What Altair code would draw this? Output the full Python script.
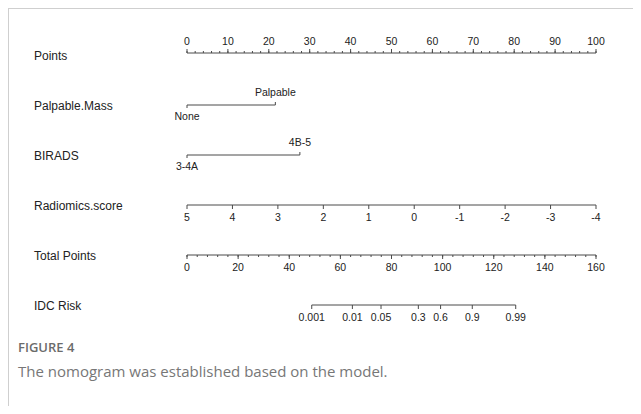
import altair as alt
import pandas as pd

# ---------------- data ----------------
row_names = ["Points", "Palpable.Mass", "BIRADS", "Radiomics.score", "Total Points", "IDC Risk"]

points_major = [0, 10, 20, 30, 40, 50, 60, 70, 80, 90, 100]
points_minor = list(range(0, 101, 2))

palpable_levels = ["None", "Palpable"]
palpable_points = [0, 21.6]

birads_levels = ["3-4A", "4B-5"]
birads_points = [0, 27.6]

radiomics_ticks = [5, 4, 3, 2, 1, 0, -1, -2, -3, -4]

total_major = [0, 20, 40, 60, 80, 100, 120, 140, 160]
total_minor = list(range(0, 161, 4))

risk_labels = ["0.001", "0.01", "0.05", "0.3", "0.6", "0.9", "0.99"]
risk_total_points = [48.8, 64.7, 75.9, 90.5, 99.2, 111.6, 128.6]

caption_head = "FIGURE 4"
caption_text = "The nomogram was established based on the model."

# ---------------- layout (pixels inside the view) ----------------
X0, X1 = 179, 588
ROW_Y = {"Points": 45, "Palpable.Mass": 97, "BIRADS": 147,
         "Radiomics.score": 197, "Total Points": 247, "IDC Risk": 297}
LINE_COLOR = "#4a4a4a"
TEXT_COLOR = "#222222"
FONT = "Liberation Sans"


def xenc(field, domain):
    return alt.X(f"{field}:Q", scale=alt.Scale(domain=domain, range=[X0, X1]), axis=None)


def x2enc(field):
    return alt.X2(f"{field}:Q")


layers = []

# row labels
df_rows = pd.DataFrame({"row": row_names,
                        "y": [ROW_Y[r] + (3 if r == "Points" else 1) for r in row_names]})
layers.append(
    alt.Chart(df_rows).mark_text(align="left", baseline="middle", fontSize=12,
                                 font=FONT, color=TEXT_COLOR)
    .encode(x=alt.value(26), y=alt.Y("y:Q", scale=None), text="row:N")
)

# ---- Points row (scale 0..100, labels above, ticks up)
yP = ROW_Y["Points"]
df_pts = pd.DataFrame({"p": points_major, "lab": [str(v) for v in points_major]})
df_pmin = pd.DataFrame({"p": points_minor})
layers += [
    alt.Chart(pd.DataFrame({"a": [0], "b": [100]})).mark_rule(color=LINE_COLOR, strokeWidth=1)
    .encode(x=xenc("a", [0, 100]), x2=x2enc("b"), y=alt.value(yP)),
    alt.Chart(df_pmin).mark_rule(color=LINE_COLOR, strokeWidth=1)
    .encode(x=xenc("p", [0, 100]), y=alt.value(yP), y2=alt.value(yP - 2)),
    alt.Chart(df_pts).mark_rule(color=LINE_COLOR, strokeWidth=1)
    .encode(x=xenc("p", [0, 100]), y=alt.value(yP), y2=alt.value(yP - 4)),
    alt.Chart(df_pts).mark_text(fontSize=10.5, font=FONT, color=TEXT_COLOR, baseline="middle")
    .encode(x=xenc("p", [0, 100]), y=alt.value(yP - 11), text="lab:N"),
]


# ---- categorical rows (points scale)
def cat_row(levels, pts, y):
    df_line = pd.DataFrame({"a": [pts[0]], "b": [pts[1]]})
    df_lo = pd.DataFrame({"p": [pts[0]], "lab": [levels[0]]})
    df_hi = pd.DataFrame({"p": [pts[1]], "lab": [levels[1]]})
    return [
        alt.Chart(df_line).mark_rule(color=LINE_COLOR, strokeWidth=1)
        .encode(x=xenc("a", [0, 100]), x2=x2enc("b"), y=alt.value(y)),
        alt.Chart(df_lo).mark_rule(color=LINE_COLOR, strokeWidth=1)
        .encode(x=xenc("p", [0, 100]), y=alt.value(y), y2=alt.value(y + 3)),
        alt.Chart(df_hi).mark_rule(color=LINE_COLOR, strokeWidth=1)
        .encode(x=xenc("p", [0, 100]), y=alt.value(y), y2=alt.value(y - 3)),
        alt.Chart(df_lo).mark_text(fontSize=10.5, font=FONT, color=TEXT_COLOR, baseline="middle")
        .encode(x=xenc("p", [0, 100]), y=alt.value(y + 12), text="lab:N"),
        alt.Chart(df_hi).mark_text(fontSize=10.5, font=FONT, color=TEXT_COLOR, baseline="middle")
        .encode(x=xenc("p", [0, 100]), y=alt.value(y - 12), text="lab:N"),
    ]


layers += cat_row(palpable_levels, palpable_points, ROW_Y["Palpable.Mass"])
layers += cat_row(birads_levels, birads_points, ROW_Y["BIRADS"])


# ---- continuous rows with ticks below
def below_row(field, domain, major, labels, y, minor=None, line=None):
    out = []
    if line is None:
        line = [domain[0], domain[1]]
    out.append(alt.Chart(pd.DataFrame({"a": [line[0]], "b": [line[1]]}))
               .mark_rule(color=LINE_COLOR, strokeWidth=1)
               .encode(x=xenc("a", domain), x2=x2enc("b"), y=alt.value(y)))
    if minor is not None:
        out.append(alt.Chart(pd.DataFrame({"v": minor})).mark_rule(color=LINE_COLOR, strokeWidth=1)
                   .encode(x=xenc("v", domain), y=alt.value(y), y2=alt.value(y + 2)))
    df = pd.DataFrame({"v": major, "lab": labels})
    out.append(alt.Chart(df).mark_rule(color=LINE_COLOR, strokeWidth=1)
               .encode(x=xenc("v", domain), y=alt.value(y), y2=alt.value(y + 4)))
    out.append(alt.Chart(df).mark_text(fontSize=10.5, font=FONT, color=TEXT_COLOR, baseline="middle")
               .encode(x=xenc("v", domain), y=alt.value(y + 13), text="lab:N"))
    return out


layers += below_row("r", [5, -4], radiomics_ticks, [str(v) for v in radiomics_ticks],
                    ROW_Y["Radiomics.score"])
layers += below_row("t", [0, 160], total_major, [str(v) for v in total_major],
                    ROW_Y["Total Points"], minor=total_minor)
layers += below_row("k", [0, 160], risk_total_points, risk_labels, ROW_Y["IDC Risk"],
                    line=[risk_total_points[0], risk_total_points[-1]])

# ---- caption
layers.append(
    alt.Chart(pd.DataFrame({"t": [caption_head]})).mark_text(
        align="left", baseline="middle", fontSize=13, font="Open Sans", fontWeight=600,
        color="#6b6b6b").encode(x=alt.value(10), y=alt.value(340), text="t:N"))
layers.append(
    alt.Chart(pd.DataFrame({"t": [caption_text]})).mark_text(
        align="left", baseline="middle", fontSize=15, font="Open Sans",
        color="#777777").encode(x=alt.value(10), y=alt.value(364), text="t:N"))

# ---- frame (top and left border)
layers.append(alt.Chart(pd.DataFrame({"d": [0]})).mark_rule(color="#cfcfcf", strokeWidth=1)
              .encode(x=alt.value(0), x2=alt.value(625), y=alt.value(0.5)))
layers.append(alt.Chart(pd.DataFrame({"d": [0]})).mark_rule(color="#cfcfcf", strokeWidth=1)
              .encode(x=alt.value(0.5), y=alt.value(0), y2=alt.value(398)))

chart = (
    alt.layer(*layers)
    .resolve_scale(x="independent", y="independent")
    .properties(width=625, height=398, padding=0, autosize=alt.AutoSizeParams(type="none"),
                background="white")
    .configure_view(stroke=None)
)

chart.save("out.html", embed_options={"renderer": "svg", "actions": False})
